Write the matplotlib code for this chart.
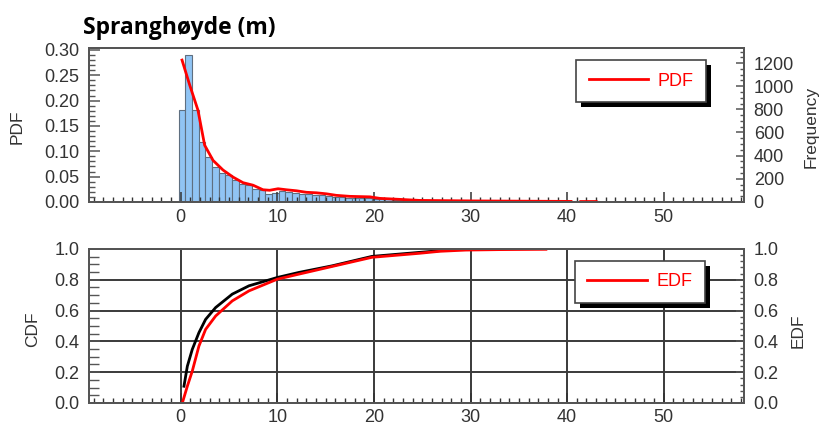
import numpy as np
import matplotlib
matplotlib.use("Agg")
import matplotlib.pyplot as plt
from matplotlib.ticker import MultipleLocator, FormatStrFormatter
from matplotlib.patches import Rectangle

# histogram (density per bin)
bin_left0 = -0.2
bin_w = 0.69
hist_pdf = [0.181, 0.290, 0.181, 0.119, 0.089, 0.069, 0.057, 0.053, 0.043, 0.036,
            0.033, 0.026, 0.024, 0.016, 0.018, 0.022, 0.020, 0.018, 0.016, 0.015,
            0.013, 0.014, 0.011, 0.010, 0.009, 0.008, 0.008, 0.007, 0.007, 0.006,
            0.005, 0.005, 0.004, 0.003, 0.003, 0.003, 0.002, 0.002, 0.002, 0.002,
            0.002, 0.002, 0.002, 0.002, 0.001, 0.001, 0.001, 0.001, 0.001, 0.001,
            0.001, 0.001, 0.001, 0.001, 0.001, 0.001, 0.001, 0.001, 0.0, 0.001,
            0.001, 0.0, 0.001]
freq_per_pdf = 4378.0

# fitted PDF (gap between 40.4 and 41.4)
pdf_x = [0.14, 0.93, 1.79, 2.48, 3.35, 4.38, 5.42, 6.45, 7.49, 8.52, 9.21, 10.08,
         10.94, 11.98, 13.01, 14.05, 15.08, 16.1, 17.5, 19.6, 20.6, 22.7, 24.7,
         30.0, 35.0, 40.4, np.nan, 41.4, 43.0]
pdf_y = [0.280, 0.231, 0.181, 0.112, 0.082, 0.063, 0.049, 0.038, 0.033, 0.024,
         0.023, 0.026, 0.024, 0.022, 0.019, 0.018, 0.016, 0.013, 0.011, 0.010,
         0.007, 0.005, 0.003, 0.002, 0.0015, 0.001, np.nan, 0.0008, 0.0008]

# CDF (black) and EDF (red)
cdf_x = [0.34, 0.69, 1.2, 1.89, 2.58, 3.62, 5.34, 7.07, 10.0, 12.25, 15.7, 19.8, 24.7, 27.0]
cdf_y = [0.109, 0.239, 0.348, 0.457, 0.543, 0.620, 0.707, 0.761, 0.815, 0.848,
         0.891, 0.952, 0.978, 0.99]
edf_x = [0.17, 0.69, 1.2, 1.89, 2.58, 3.62, 5.34, 7.07, 10.0, 12.25, 15.7, 19.8,
         24.7, 26.8, 29.5, 33.0, 37.8]
edf_y = [0.0, 0.109, 0.207, 0.370, 0.478, 0.565, 0.663, 0.728, 0.804, 0.837,
         0.887, 0.946, 0.972, 0.985, 0.993, 0.996, 0.998]

plt.rcParams['font.family'] = ['Liberation Sans', 'DejaVu Sans']
txt = '#333333'
spine_c = '#555555'
tick_fs = 13
lab_fs = 12.5

fig = plt.figure(figsize=(8.23, 4.26), dpi=100)
ax1 = fig.add_axes([0.108, 0.526, 0.796, 0.3615])
ax2 = fig.add_axes([0.108, 0.054, 0.796, 0.3615])

xlim = (-9.5, 58.3)

# ---- top panel
lefts = bin_left0 + bin_w * np.arange(len(hist_pdf))
ax1.bar(lefts, hist_pdf, width=bin_w, align='edge', color='#90c4f4',
        edgecolor='#5f6f80', linewidth=0.8)
ax1.plot(pdf_x, pdf_y, color='red', lw=2, label='PDF')
ax1.set_xlim(*xlim)
ax1.set_ylim(0, 0.304)
ax1.yaxis.set_major_locator(MultipleLocator(0.05))
ax1.yaxis.set_minor_locator(MultipleLocator(0.01))
ax1.yaxis.set_major_formatter(FormatStrFormatter('%.2f'))
ax1r = ax1.twinx()
ax1r.set_ylim(0, 0.304 * freq_per_pdf)
ax1r.yaxis.set_major_locator(MultipleLocator(200))
ax1r.yaxis.set_minor_locator(MultipleLocator(50))
ax1.set_ylabel('PDF', fontsize=lab_fs, color=txt)
ax1r.set_ylabel('Frequency', fontsize=lab_fs, color=txt)
ax1.yaxis.set_label_coords(-0.098, 0.49)
ax1r.yaxis.set_label_coords(1.091, 0.49)
fig.text(0.101, 0.935, 'Spranghøyde (m)', fontsize=16.5, fontweight='bold',
         family='Open Sans', color='black', va='center')

# ---- bottom panel
ax2.plot(cdf_x, cdf_y, color='black', lw=2)
ax2.plot(edf_x, edf_y, color='red', lw=2, label='EDF')
ax2.set_xlim(*xlim)
ax2.set_ylim(0, 1.0)
ax2.yaxis.set_major_locator(MultipleLocator(0.2))
ax2.yaxis.set_minor_locator(MultipleLocator(0.05))
ax2.grid(True, which='major', color='#3a3a3a', lw=1.4)
ax2r = ax2.twinx()
ax2r.set_ylim(0, 1.0)
ax2r.yaxis.set_major_locator(MultipleLocator(0.2))
ax2r.yaxis.set_minor_locator(MultipleLocator(0.04))
ax2.set_ylabel('CDF', fontsize=lab_fs, color=txt)
ax2r.set_ylabel('EDF', fontsize=lab_fs, color=txt)
ax2.yaxis.set_label_coords(-0.075, 0.48)
ax2r.yaxis.set_label_coords(1.071, 0.47)

for ax in (ax1, ax2):
    ax.xaxis.set_major_locator(MultipleLocator(10))
    ax.xaxis.set_minor_locator(MultipleLocator(1))
    ax.tick_params(axis='x', which='major', direction='in', length=7, width=1.1,
                   color='#333333', labelsize=tick_fs, labelcolor=txt, pad=4, top=False)
    ax.tick_params(axis='x', which='minor', direction='in', length=3.5, width=1.0,
                   color='#333333', top=False)
    ax.tick_params(axis='y', which='major', direction='in', length=8, width=1.1,
                   color='#555555', labelsize=tick_fs, labelcolor=txt, pad=7)
    ax.tick_params(axis='y', which='minor', direction='in', length=4, width=1.0,
                   color='#555555')
ax1.tick_params(axis='x', which='major', pad=5)
for ax in (ax1r, ax2r):
    ax.tick_params(axis='y', which='major', direction='in', length=6, width=1.1,
                   color='#555555', labelsize=tick_fs, labelcolor=txt, pad=7)
    ax.tick_params(axis='y', which='minor', direction='in', length=3, width=1.0,
                   color='#555555')
for ax in (ax1, ax2, ax1r, ax2r):
    for s in ax.spines.values():
        s.set_color(spine_c)
        s.set_linewidth(1.4)
# longer left ticks in the lower panel
ax2.tick_params(axis='y', which='minor', length=7)

legs = []
for ax, anchor in ((ax1, (0.942, 0.922)), (ax2, (0.940, 0.924))):
    leg = ax.legend(loc='upper right', bbox_to_anchor=anchor, fancybox=False,
                    framealpha=1, edgecolor='#444444', fontsize=13,
                    labelcolor='red', handlelength=3.3, handletextpad=0.5,
                    borderpad=0.7, borderaxespad=0)
    leg.get_frame().set_linewidth(1.2)
    leg.set_zorder(6)
    legs.append((ax, leg))

fig.canvas.draw()
for ax, leg in legs:
    bb = leg.get_window_extent()
    sh = Rectangle((bb.x0 + 5, bb.y0 - 5), bb.width, bb.height, transform=None,
                   facecolor='black', edgecolor='none', zorder=5.5, clip_on=False)
    ax.add_artist(sh)

fig.savefig('out.png', dpi=100)
